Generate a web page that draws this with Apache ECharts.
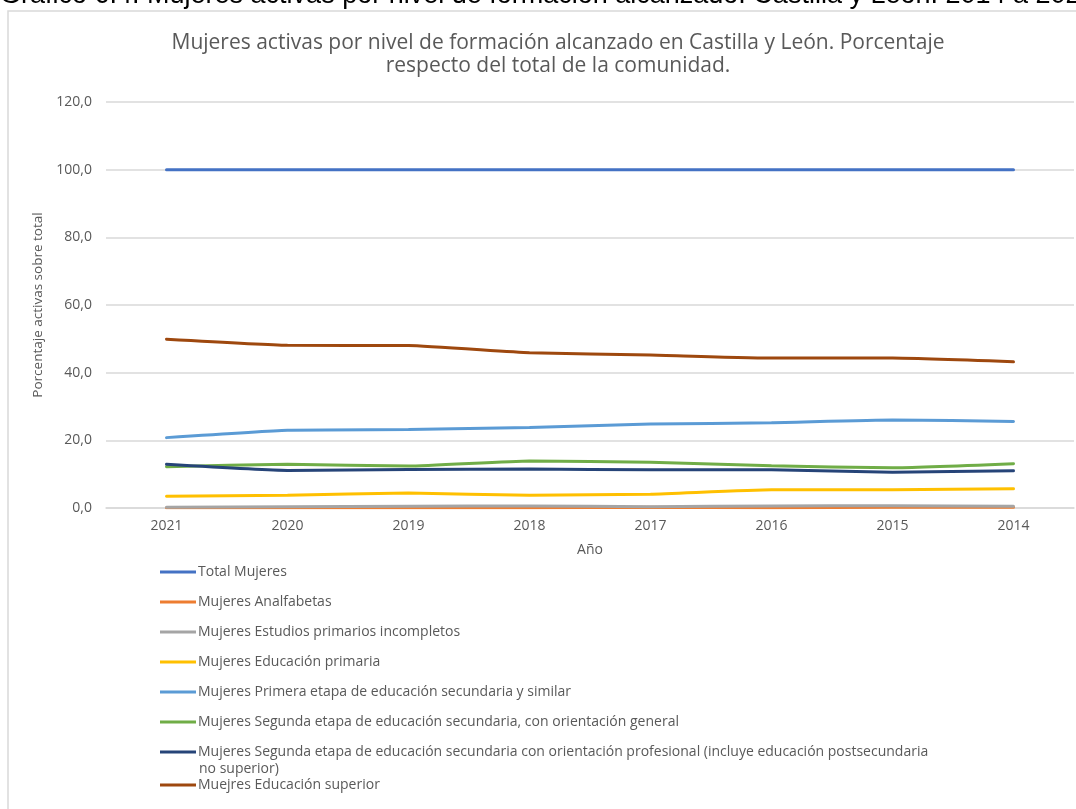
<!DOCTYPE html>
<html>
<head>
<meta charset="utf-8">
<script src="https://cdn.jsdelivr.net/npm/echarts@6/dist/echarts.min.js"></script>
<style>
    html, body { margin: 0; padding: 0; background: #fff; }
    #chart { width: 1076px; height: 809px; }
</style>
</head>
<body>
<div id="chart"></div>
<script>
// años (eje X, de más reciente a más antiguo)
const years = ["2021", "2020", "2019", "2018", "2017", "2016", "2015", "2014"];

const seriesNames = [
    "Total Mujeres",
    "Mujeres Analfabetas",
    "Mujeres Estudios primarios incompletos",
    "Mujeres Educación primaria",
    "Mujeres Primera etapa de educación secundaria y similar",
    "Mujeres Segunda etapa de educación secundaria, con orientación general",
    "Mujeres Segunda etapa de educación secundaria con orientación profesional (incluye educación postsecundaria",
    "Muejres Educación superior"
];

// valores (% sobre total)
const totalMujeres = [100, 100, 100, 100, 100, 100, 100, 100];
const analfabetas = [0.1, 0.1, 0.1, 0.1, 0.2, 0.1, 0.2, 0.2];
const primariosIncompletos = [0.2, 0.4, 0.5, 0.6, 0.4, 0.6, 0.7, 0.5];
const educPrimaria = [3.5, 3.8, 4.4, 3.8, 4.1, 5.4, 5.4, 5.7];
const primeraEtapa = [20.8, 23.0, 23.2, 23.8, 24.8, 25.2, 26.0, 25.6];
const segundaGeneral = [12.2, 12.9, 12.4, 13.9, 13.5, 12.5, 11.9, 13.1];
const segundaProfesional = [12.9, 11.1, 11.4, 11.5, 11.3, 11.3, 10.6, 11.0];
const educSuperior = [49.9, 48.1, 48.0, 45.9, 45.2, 44.3, 44.3, 43.2];

const yTicks = [0, 20, 40, 60, 80, 100, 120];

const colors = ["#4472C4", "#ED7D31", "#A5A5A5", "#FFC000", "#5B9BD5", "#70AD47", "#264478", "#9E480E"];
const allData = [totalMujeres, analfabetas, primariosIncompletos, educPrimaria, primeraEtapa, segundaGeneral, segundaProfesional, educSuperior];

const fontFam = '"Open Sans", "Noto Sans", sans-serif';
const grey = "#595959";
const legendIcon = "path://M0,5.5 L36,5.5 L36,8.5 L0,8.5 Z";

const chart = echarts.init(document.getElementById("chart"));

chart.setOption({
    animation: false,
    color: colors,
    title: {
        text: "Mujeres activas por nivel de formación alcanzado en Castilla y León. Porcentaje\nrespecto del total de la comunidad.",
        left: 553,
        textAlign: "center",
        top: 27,
        textStyle: { fontFamily: fontFam, fontSize: 21, fontWeight: "normal", color: grey, lineHeight: 23 }
    },
    graphic: [
        // borde del área del gráfico
        { type: "rect", shape: { x: 8, y: 11, width: 1100, height: 820 }, style: { fill: "none", stroke: "#D9D9D9", lineWidth: 1.5 }, silent: true },
        // título de la figura (cortado arriba)
        { type: "text", x: 0, y: 9, style: { text: "Gráfico 6.4. Mujeres activas por nivel de formación alcanzado. Castilla y León. 2014 a 2021", font: "27px 'Liberation Sans', Arial, sans-serif", fill: "#000", verticalAlign: "bottom" } },
        // segunda línea de la leyenda larga
        { type: "text", left: 199, top: 762, style: { text: "no superior)", font: "14px " + fontFam, fill: grey } }
    ],
    grid: { left: 106, right: 2, top: 102, bottom: 301 },
    xAxis: {
        type: "category",
        data: years,
        boundaryGap: true,
        name: "Año",
        nameLocation: "middle",
        nameGap: 35,
        nameTextStyle: { fontFamily: fontFam, fontSize: 14, color: grey },
        axisLine: { show: true, lineStyle: { color: "#D9D9D9", width: 1.5 } },
        axisTick: { show: false },
        axisLabel: { fontFamily: fontFam, fontSize: 14, color: grey, margin: 11 }
    },
    yAxis: {
        type: "value",
        min: yTicks[0],
        max: yTicks[yTicks.length - 1],
        interval: 20,
        name: "Porcentaje activas sobre total",
        nameLocation: "middle",
        nameGap: 61,
        nameTextStyle: { fontFamily: fontFam, fontSize: 13.5, color: grey },
        axisLine: { show: false },
        axisTick: { show: false },
        splitLine: { lineStyle: { color: "#D9D9D9", width: 1.5 } },
        axisLabel: {
            fontFamily: fontFam, fontSize: 14, color: grey, margin: 14,
            formatter: (v) => v.toFixed(1).replace(".", ",")
        }
    },
    legend: [
        {
            orient: "vertical",
            left: 155,
            top: 560,
            itemWidth: 36,
            itemHeight: 14,
            itemGap: 16,
            icon: legendIcon,
            data: seriesNames.slice(0, 7),
            textStyle: { fontFamily: fontFam, fontSize: 14, color: grey, padding: [0, 0, 0, -3] }
        },
        {
            orient: "vertical",
            left: 155,
            top: 773,
            itemWidth: 36,
            itemHeight: 14,
            icon: legendIcon,
            data: seriesNames.slice(7),
            textStyle: { fontFamily: fontFam, fontSize: 14, color: grey, padding: [0, 0, 0, -3] }
        }
    ],
    series: seriesNames.map((name, i) => ({
        name: name,
        type: "line",
        data: allData[i],
        smooth: 0.15,
        symbol: "none",
        lineStyle: { width: 3, color: colors[i], cap: "round" },
        itemStyle: { color: colors[i] }
    }))
});
</script>
</body>
</html>
